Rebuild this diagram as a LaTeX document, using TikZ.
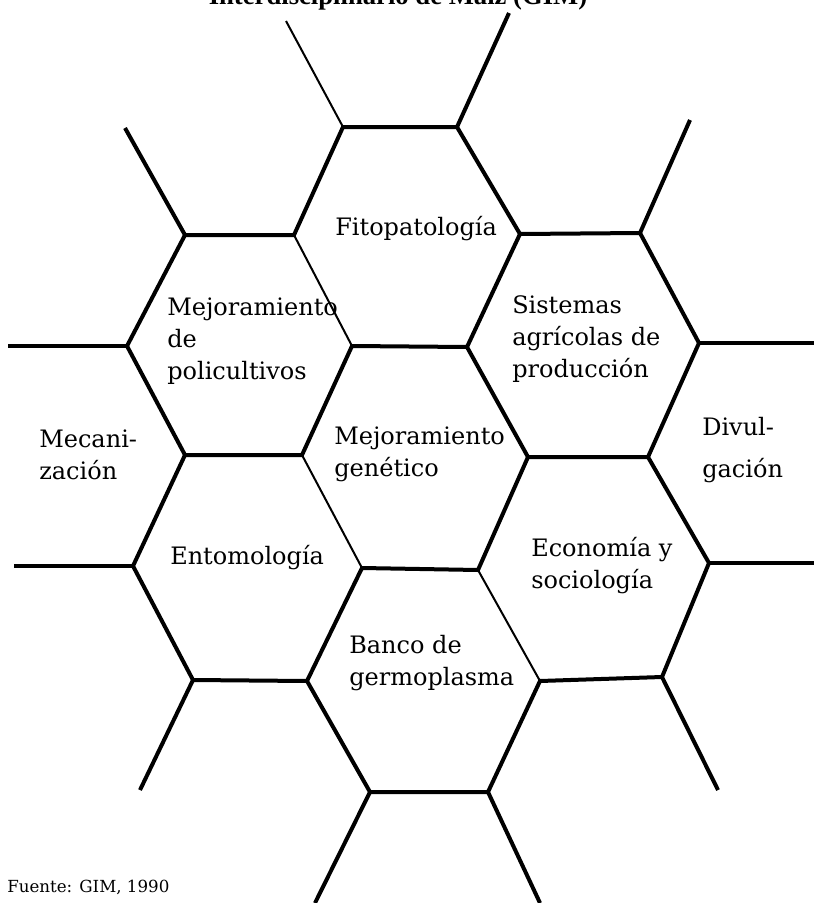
\documentclass[tikz,border=0pt]{standalone}
\usepackage{fontspec}
\setmainfont{DejaVu Serif}
\newfontfamily\titlefont{Liberation Serif}
\usepackage{tikz}
\definecolor{InkBlack}{HTML}{000000}

\tikzset{
  hexline/.style={draw=InkBlack, line width=3pt},
  thinline/.style={draw=InkBlack, line width=1.5pt},
  field/.style={anchor=base west, inner sep=0pt, align=left,
                font=\fontsize{18}{24}\selectfont},
}

\begin{document}
\begin{tikzpicture}[x=0.75pt, y=-0.75pt]
\useasboundingbox (0,0) rectangle (814,903);

% hexagon corners
\coordinate (ftl) at (343,127);  \coordinate (ftr) at (457,127);
\coordinate (fl)  at (294,235);  \coordinate (fr)  at (520,234);
\coordinate (ptl) at (185,235);  \coordinate (pl)  at (127,346);
\coordinate (pbl) at (185,455);
\coordinate (ctl) at (352,346);  \coordinate (ctr) at (467,347);
\coordinate (cl)  at (302,455);  \coordinate (cr)  at (528,457);
\coordinate (cbl) at (362,568);  \coordinate (cbr) at (478,570);
\coordinate (str) at (640,233);  \coordinate (sr)  at (699,343);
\coordinate (sbr) at (648,457);
\coordinate (el)  at (133,566);  \coordinate (ebl) at (193,680);
\coordinate (ebr) at (307,681);
\coordinate (ecr) at (709,563);  \coordinate (ecbr) at (662,677);
\coordinate (ecbl) at (540,681);
\coordinate (bbl) at (370,792);  \coordinate (bbr) at (488,792);

% loose ends
\coordinate (s1) at (286,21);   \coordinate (s2) at (509,13);
\coordinate (s3) at (125,128);  \coordinate (s4) at (690,120);
\coordinate (s5) at (8,346);    \coordinate (s6) at (814,343);
\coordinate (s7) at (14,566);   \coordinate (s8) at (814,563);
\coordinate (s9) at (140,790);  \coordinate (s10) at (718,790);
\coordinate (s11) at (315,903); \coordinate (s12) at (540,903);

\draw[hexline] (ptl) -- (fl) -- (ftl) -- (ftr) -- (fr) -- (str) -- (sr)
  -- (sbr) -- (cr) -- (ctr) -- (ctl) -- (cl) -- (pbl) -- (pl) -- cycle;
\draw[hexline] (fr) -- (ctr);
\draw[hexline] (pbl) -- (el) -- (ebl) -- (ebr) -- (cbl) -- (cbr) -- (cr);
\draw[hexline] (sbr) -- (ecr) -- (ecbr) -- (ecbl) -- (bbr) -- (bbl) -- (ebr);
\draw[thinline] (fl) -- (ctl);
\draw[thinline] (cl) -- (cbl);
\draw[thinline] (cbr) -- (ecbl);
\draw[thinline] (ftl) -- (s1);
\foreach \a/\b in {ftr/s2, ptl/s3, str/s4, pl/s5, sr/s6, el/s7,
                   ecr/s8, ebl/s9, ecbr/s10, bbl/s11, bbr/s12}
  \draw[hexline] (\a) -- (\b);

% labels (base = last line)
\node[anchor=base, inner sep=0pt, font=\titlefont\bfseries\fontsize{20}{24}\selectfont]
  (title) at (398,4) {Interdisciplinario de Maíz (GIM)};
\node[field] (fito) at (335,235) {Fitopatología};
\node[field] (poli) at (167,379) {Mejoramiento\\de\\policultivos};
\node[field] (sist) at (512,377) {Sistemas\\agrícolas de\\producción};
\node[field] (meca) at (39,479) {Mecani-\\zación};
\node[field] (gene) at (334,476) {Mejoramiento\\genético};
\node[field] (divu) at (702,477) {Divul-\\[7.5pt]gación};
\node[field] (ento) at (170,564) {Entomología};
\node[field] (econ) at (531,588) {Economía y\\sociología};
\node[field] (banc) at (349,685) {Banco de\\germoplasma};
\node[anchor=base west, inner sep=0pt, font=\fontsize{12.5}{15}\selectfont]
  (fuente) at (7,892) {Fuente: GIM, 1990};
\end{tikzpicture}
\end{document}
